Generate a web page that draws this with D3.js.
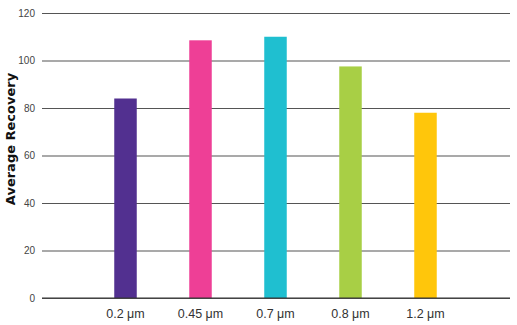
<!DOCTYPE html>
<html>
<head>
<meta charset="utf-8">
<script src="https://cdn.jsdelivr.net/npm/d3@7"></script>
<style>
  body { margin: 0; background: #fff; }
  svg { display: block; font-family: "DejaVu Sans", Verdana, sans-serif; }
</style>
</head>
<body>
<svg id="chart" width="517" height="325"></svg>
<script>
// data
const categories = ['0.2 μm', '0.45 μm', '0.7 μm', '0.8 μm', '1.2 μm'];
const recovery = [84, 108.5, 110, 97.5, 78];
const barColors = ['#523090', '#ee3f96', '#1fbfd0', '#a8cf45', '#ffc60b'];
const yTicks = [0, 20, 40, 60, 80, 100, 120];

const svg = d3.select('#chart');

const plotLeft = 42, plotRight = 510;
const plotTop = 13, plotBottom = 298;

let yScale = d3.scaleLinear()
    .domain([0, 120])
    .range([plotBottom, plotTop]);

let xScale = d3.scaleBand()
    .domain(categories)
    .range([88, 463])
    .paddingInner(0.7)
    .paddingOuter(0.35);

// gridlines + y tick labels
let yAxis = d3.axisLeft(yScale)
    .tickValues(yTicks)
    .tickSize(-(plotRight - plotLeft))
    .tickPadding(7);

svg.append('g')
    .attr('class', 'axis axis--y')
    .attr('transform', `translate(${plotLeft}, 0)`)
    .call(yAxis)
    .call(g => g.select('.domain').remove())
    .call(g => g.selectAll('line').attr('stroke', '#555').attr('stroke-width', 1.2))
    .call(g => g.selectAll('text')
        .attr('fill', '#444')
        .attr('font-size', 10));

// bars
svg.append('g')
    .selectAll('rect')
    .data(recovery)
    .enter()
    .append('rect')
        .attr('x', (d, i) => xScale(categories[i]))
        .attr('width', xScale.bandwidth())
        .attr('y', d => yScale(d))
        .attr('height', d => yScale(0) - yScale(d))
        .attr('fill', (d, i) => barColors[i]);

// baseline
svg.append('line')
    .attr('x1', plotLeft).attr('x2', plotRight)
    .attr('y1', yScale(0)).attr('y2', yScale(0))
    .attr('stroke', '#333')
    .attr('stroke-width', 1.2);

// x labels
let xAxis = d3.axisBottom(xScale).tickSize(0).tickPadding(11);
svg.append('g')
    .attr('class', 'axis axis--x')
    .attr('transform', `translate(0, ${yScale(0)})`)
    .call(xAxis)
    .call(g => g.select('.domain').remove())
    .call(g => g.selectAll('text')
        .attr('fill', '#333')
        .attr('font-size', 12.5));

// y title
svg.append('text')
    .attr('transform', 'rotate(-90)')
    .attr('x', -139)
    .attr('y', 15)
    .attr('text-anchor', 'middle')
    .attr('font-size', 13)
    .attr('font-weight', 'bold')
    .attr('fill', '#111')
    .text('Average Recovery');
</script>
</body>
</html>
